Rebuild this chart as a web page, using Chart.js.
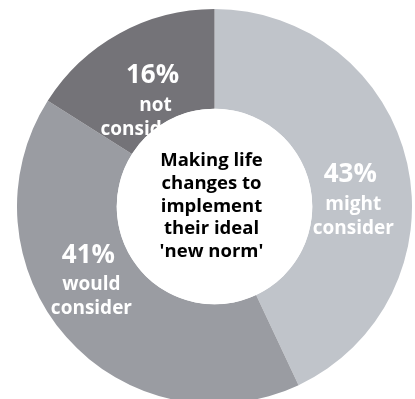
<!DOCTYPE html>
<html>
<head>
<meta charset="utf-8">
<script src="https://cdn.jsdelivr.net/npm/chart.js@4"></script>
<style>
  html, body { margin:0; padding:0; background:#fff; overflow:hidden; width:415px; height:399px; }
  #wrap { position:absolute; left:17px; top:9px; width:395px; height:395px; }
</style>
</head>
<body>
<div id="wrap"><canvas id="chartRing" width="395" height="395"></canvas></div>
<script>
// ==================== Data ====================
const kategori = ['might consider', 'would consider', 'not considering'];
const persen = [43, 41, 16];
const warna = ['#c0c4ca', '#9a9ca2', '#747378'];
const judulTengah = ['Making life', 'changes to', 'implement', 'their ideal', "'new norm'"];

// label placement (degrees added to slice mid-angle, radius from centre)
const geserSudut = [2.4, 17.4, 2.1];
const jarakLabel = 138;

const FONT = "'Open Sans', 'Noto Sans', sans-serif";

// ==================== Plugin label ====================
const labelPlugin = {
  id: 'labelRing',
  afterDatasetsDraw(chart) {
    const ctx = chart.ctx;
    const arcs = chart.getDatasetMeta(0).data;
    ctx.save();
    ctx.textAlign = 'center';
    ctx.textBaseline = 'alphabetic';
    ctx.fillStyle = '#ffffff';

    arcs.forEach((arc, i) => {
      const mid = (arc.startAngle + arc.endAngle) / 2 + geserSudut[i] * Math.PI / 180;
      const x = arc.x + Math.cos(mid) * jarakLabel;
      const y = arc.y + Math.sin(mid) * jarakLabel;
      ctx.font = 'bold 26px ' + FONT;
      ctx.fillText(persen[i] + '%', x, y);
      const words = kategori[i].split(' ');
      ctx.font = 'bold 19px ' + FONT;
      ctx.fillText(words[0], x + 3, y + 27.5);
      ctx.fillText(words[1], x + 3, y + 51.5);
    });

    // white hole covers part of the labels
    const a0 = arcs[0];
    ctx.beginPath();
    ctx.arc(a0.x, a0.y, a0.innerRadius, 0, Math.PI * 2);
    ctx.fillStyle = '#ffffff';
    ctx.fill();

    // centre title
    ctx.fillStyle = '#000000';
    ctx.font = 'bold 18.5px ' + FONT;
    judulTengah.forEach((t, i) => {
      ctx.fillText(t, a0.x - 3, a0.y + 5 + (i - 2) * 22.75);
    });
    ctx.restore();
  }
};

// ==================== Chart ====================
new Chart(document.getElementById('chartRing').getContext('2d'), {
  type: 'doughnut',
  data: {
    labels: kategori,
    datasets: [{ data: persen, backgroundColor: warna, borderWidth: 0, hoverOffset: 0 }]
  },
  options: {
    responsive: false,
    animation: false,
    cutout: '49.5%',
    layout: { padding: 0 },
    events: [],
    plugins: { legend: { display: false }, tooltip: { enabled: false } }
  },
  plugins: [labelPlugin]
});
</script>
</body>
</html>
